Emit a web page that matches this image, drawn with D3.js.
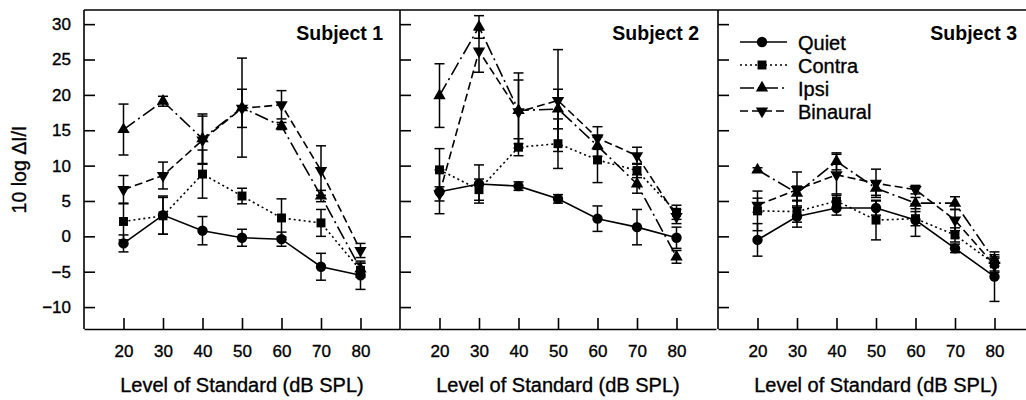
<!DOCTYPE html>
<html>
<head>
<meta charset="utf-8">
<script src="https://cdn.jsdelivr.net/npm/d3@7"></script>
<style>
  body { margin: 0; background: #fff; }
  svg { font-family: Arial, "Liberation Sans", sans-serif; }
  .ink { stroke: #000; stroke-width: 0.35px; }
</style>
</head>
<body>
<svg width="1026" height="400"></svg>
<script>
// Data
const levels = [20, 30, 40, 50, 60, 70, 80];
const subjects = ["Subject 1", "Subject 2", "Subject 3"];
const seriesNames = ["Quiet", "Contra", "Ipsi", "Binaural"];
const yTicks = [-10, -5, 0, 5, 10, 15, 20, 25, 30];

const quiet1 = [-1.0, 3.0, 0.8, -0.2, -0.4, -4.3, -5.5];
const quietErr1 = [1.2, 2.7, 2.0, 1.2, 1.0, 1.9, 2.0];
const contra1 = [2.1, 2.9, 8.8, 5.7, 2.6, 1.9, -4.8];
const contraErr1 = [2.6, 2.6, 3.4, 1.1, 2.7, 1.9, 1.0];
const ipsi1 = [15.1, 19.1, 13.8, 18.2, 15.6, 5.7, -4.6];
const ipsiErr1 = [3.6, 0.7, 3.5, 7.0, 0.5, 0.8, 0.8];
const binaural1 = [6.6, 8.6, 13.6, 18.1, 18.6, 9.3, -2.0];
const binauralErr1 = [2.0, 1.9, 3.4, 2.7, 2.0, 3.5, 1.0];

const quiet2 = [6.3, 7.4, 7.1, 5.3, 2.5, 1.3, -0.2];
const quietErr2 = [3.1, 2.7, 0.6, 0.6, 1.8, 2.5, 1.5];
const contra2 = [9.4, 6.6, 12.6, 13.1, 10.8, 9.3, 3.4];
const contraErr2 = [3.0, 1.5, 1.2, 3.5, 3.2, 1.0, 1.0];
const ipsi2 = [19.9, 29.6, 17.8, 18.0, 12.8, 7.4, -2.9];
const ipsiErr2 = [4.5, 1.6, 5.3, 2.8, 1.5, 1.3, 0.9];
const binaural2 = [6.0, 26.2, 17.6, 19.2, 13.9, 11.4, 2.8];
const binauralErr2 = [1.0, 3.0, 4.5, 7.2, 1.6, 1.2, 1.0];

const quiet3 = [-0.5, 2.8, 4.0, 4.0, 2.3, -1.7, -5.7];
const quietErr3 = [2.3, 1.5, 1.0, 1.0, 2.3, 0.6, 3.5];
const contra3 = [3.6, 3.5, 5.0, 2.3, 2.5, 0.2, -3.9];
const contraErr3 = [2.8, 1.5, 1.0, 2.8, 1.0, 1.0, 1.0];
const ipsi3 = [9.4, 6.1, 10.6, 6.8, 4.7, 4.7, -3.4];
const ipsiErr3 = [0.3, 1.0, 1.2, 1.0, 0.8, 0.9, 0.8];
const binaural3 = [4.4, 6.6, 8.7, 7.5, 6.6, 2.3, -4.1];
const binauralErr3 = [1.0, 2.5, 2.9, 2.0, 0.6, 1.5, 1.0];

const panels = [
  [[quiet1, quietErr1], [contra1, contraErr1], [ipsi1, ipsiErr1], [binaural1, binauralErr1]],
  [[quiet2, quietErr2], [contra2, contraErr2], [ipsi2, ipsiErr2], [binaural2, binauralErr2]],
  [[quiet3, quietErr3], [contra3, contraErr3], [ipsi3, ipsiErr3], [binaural3, binauralErr3]]
];

// line style + marker per series
const styles = [
  { dash: null, sym: d3.symbolCircle, size: 85, rot: 0 },
  { dash: "2,3", sym: d3.symbolSquare, size: 80, rot: 0 },
  { dash: "14,4,2,4", sym: d3.symbolTriangle, size: 66, rot: 0 },
  { dash: "8,4", sym: d3.symbolTriangle, size: 66, rot: 180 }
];

const svg = d3.select("svg");
const plotTop = 10, plotBottom = 329, panelW = 316;
const lefts = [84, 400, 718];

const y = d3.scaleLinear().domain([-13.1, 32]).range([plotBottom, plotTop]);

// clip to page width (last panel runs off the edge)
svg.append("defs").append("clipPath").attr("id", "page")
  .append("rect").attr("x", 0).attr("y", 0).attr("width", 1026).attr("height", 400);

const root = svg.append("g").attr("clip-path", "url(#page)");

// top frame line
root.append("line")
  .attr("x1", lefts[0]).attr("x2", 1026)
  .attr("y1", plotTop).attr("y2", plotTop)
  .attr("stroke", "#000").attr("stroke-width", 1.6);

panels.forEach((series, p) => {
  const x = d3.scaleLinear().domain([10, 90]).range([lefts[p], lefts[p] + panelW]);
  const g = root.append("g");

  // y axis
  const ya = g.append("g")
    .attr("transform", `translate(${lefts[p]},0)`)
    .call(d3.axisLeft(y).tickValues(yTicks)
      .tickSizeInner(-11).tickSizeOuter(0).tickPadding(13)
      .tickFormat(p === 0 ? d3.format("d") : ""));
  ya.select(".domain").attr("d", `M0,${plotTop}V${plotBottom}`);

  // x axis
  const xa = g.append("g")
    .attr("transform", `translate(0,${plotBottom})`)
    .call(d3.axisBottom(x).tickValues(levels)
      .tickSizeInner(-11).tickSizeOuter(0).tickPadding(16)
      .tickFormat(d3.format("d")));

  [ya, xa].forEach(a => {
    a.selectAll("path, line").attr("stroke", "#000").attr("stroke-width", 1.6);
    a.selectAll("text").attr("fill", "#000").attr("class", "ink").style("font-size", "17px");
  });

  g.append("text")
    .attr("class", "ink")
    .attr("x", lefts[p] + panelW / 2)
    .attr("y", 392)
    .attr("text-anchor", "middle")
    .style("font-size", "20px")
    .text("Level of Standard (dB SPL)");

  g.append("text")
    .attr("x", lefts[p] + panelW - 17)
    .attr("y", 40)
    .attr("text-anchor", "end")
    .style("font-size", "19.5px")
    .style("font-weight", "bold")
    .text(subjects[p]);

  series.forEach(([vals, errs], s) => {
    const st = styles[s];
    const pts = levels.map((l, i) => ({ l, v: vals[i], e: errs[i] }));

    // error bars
    const eb = g.append("g").attr("stroke", "#000").attr("stroke-width", 1.5);
    pts.forEach(d => {
      eb.append("line")
        .attr("x1", x(d.l)).attr("x2", x(d.l))
        .attr("y1", y(d.v - d.e)).attr("y2", y(d.v + d.e));
      [d.v - d.e, d.v + d.e].forEach(v => {
        eb.append("line")
          .attr("x1", x(d.l) - 5).attr("x2", x(d.l) + 5)
          .attr("y1", y(v)).attr("y2", y(v));
      });
    });

    g.append("path")
      .datum(pts)
      .attr("fill", "none")
      .attr("stroke", "#000")
      .attr("stroke-width", 1.6)
      .attr("stroke-dasharray", st.dash)
      .attr("d", d3.line().x(d => x(d.l)).y(d => y(d.v)));

    g.selectAll(null)
      .data(pts)
      .enter()
      .append("path")
      .attr("d", d3.symbol().type(st.sym).size(st.size))
      .attr("transform", d => `translate(${x(d.l)},${y(d.v)}) rotate(${st.rot})`)
      .attr("fill", "#000");
  });
});

// y axis title
svg.append("text")
  .attr("class", "ink")
  .attr("transform", `translate(26,${(plotTop + plotBottom) / 2}) rotate(-90)`)
  .attr("text-anchor", "middle")
  .style("font-size", "19.5px")
  .text("10 log ΔI/I");

// legend
const legend = svg.append("g");
seriesNames.forEach((name, i) => {
  const st = styles[i];
  const ly = 42 + i * 23;
  legend.append("line")
    .attr("x1", 740).attr("x2", 787)
    .attr("y1", ly).attr("y2", ly)
    .attr("stroke", "#000").attr("stroke-width", 1.6)
    .attr("stroke-dasharray", st.dash);
  legend.append("path")
    .attr("d", d3.symbol().type(st.sym).size(st.size))
    .attr("transform", `translate(762,${ly}) rotate(${st.rot})`)
    .attr("fill", "#000");
  legend.append("text")
    .attr("class", "ink")
    .attr("x", 798).attr("y", ly + 8)
    .style("font-size", "20px")
    .text(name);
});
</script>
</body>
</html>
